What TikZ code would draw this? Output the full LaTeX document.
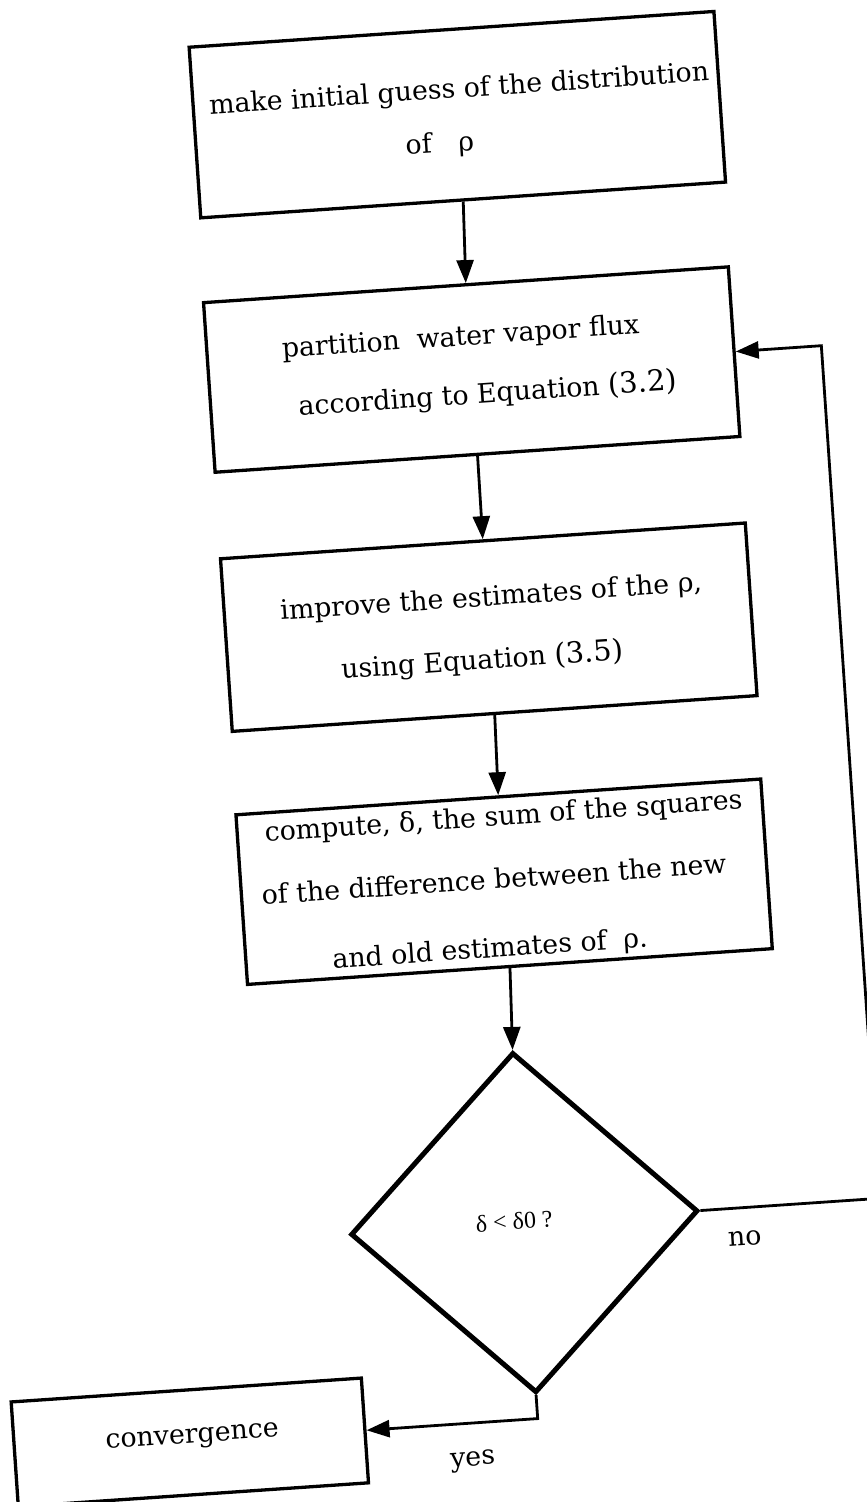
\documentclass[tikz,border=0pt]{standalone}
\usepackage{fontspec}
\setmainfont{DejaVu Serif}
\newfontfamily\timesf{Liberation Serif}
\usetikzlibrary{arrows.meta,shapes.geometric}
\begin{document}
\begin{tikzpicture}[x=1pt,y=1pt,
  box/.style={draw, line width=3.3pt, minimum width=526pt, inner sep=0pt},
  decide/.style={draw, diamond, line width=5pt, minimum width=348pt, minimum height=341pt, inner sep=0pt},
  txt/.style={anchor=mid, inner sep=0pt, font=\fontsize{26.8}{30}\selectfont},
  arr/.style={line width=2.8pt, -{Triangle[length=23pt,width=17pt]}}]
\fill[white] (0,0) rectangle (867,-1502);
\useasboundingbox (0,0) rectangle (867,-1502);
\clip (0,0) rectangle (867,-1502);
\begin{scope}[rotate=3.9, transform shape]
  % boxes
  \node[box, minimum height=171pt] (b1) at (448.5,-145.5) {};
  \node[box, minimum height=170pt] (b2) at (445.5,-400.8) {};
  \node[box, minimum height=173pt] (b3) at (445,-659) {};
  \node[box, minimum height=170pt] (b4) at (443,-914) {};
  \node[decide] (d) at (440,-1255.5) {};
  \node[box, minimum width=351pt, minimum height=105pt] (conv) at (91.3,-1452) {};
  % texts
  \node[txt] (t1a) at (452,-126) {make initial guess of the distribution};
  \node[txt] (t1b) at (429,-179.6) {of\quad ρ};
  \node[txt] (t2a) at (436.6,-373.6) {partition\ \ water vapor flux};
  \node[txt] (t2b) at (459.7,-432.3) {according to Equation {\fontsize{29}{30}\selectfont(3.2)}};
  \node[txt] (t3a) at (449.4,-635) {improve the estimates of the ρ,};
  \node[txt] (t3b) at (436.1,-697.8) {using Equation {\fontsize{29}{30}\selectfont(3.5)}};
  \node[txt] (t4a) at (446.9,-854.9) {compute, δ, the sum of the squares};
  \node[txt] (t4b) at (433,-918) {of the difference between the new};
  \node[txt] (t4c) at (424.4,-986.2) {and old estimates of\ \ ρ.};
  \node[txt] (tc) at (94.1,-1449.8) {convergence};
  \node[anchor=mid, inner sep=0pt, font=\timesf\fontsize{24}{26}\selectfont] (td) at (430,-1259) {δ < δ0 ?};
  \node[txt] (tno) at (658.8,-1290.7) {no};
  \node[txt] (tyes) at (372.4,-1491.8) {yes};
  % connectors
  \draw[arr] (b1.south) -- (b2.north);
  \draw[arr] (b2.south) -- (b3.north);
  \draw[arr] (b3.south) -- (b4.north);
  \draw[arr] (b4.south) -- (d.north);
  \draw[arr] (d.south) |- (conv.east);
  \coordinate (fbx) at (796,0);
  \draw[arr] (d.east) -- (d.east -| fbx) -- (b2.east -| fbx) -- (b2.east);
\end{scope}
\end{tikzpicture}
\end{document}
